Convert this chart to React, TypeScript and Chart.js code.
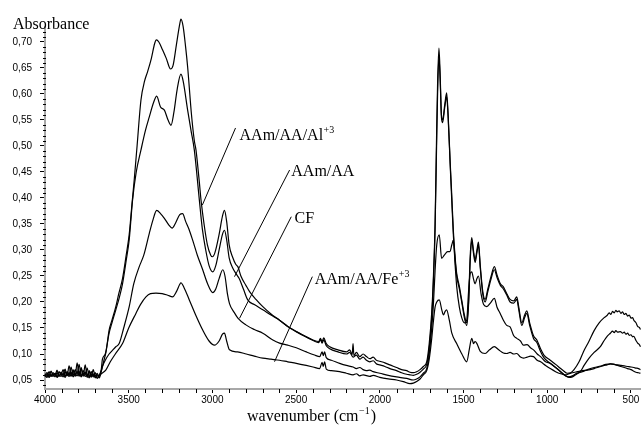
import React, { useEffect, useRef } from 'react';
import { Chart, registerables } from 'chart.js';

Chart.register(...registerables);

// ---------- data ----------
const noiseW = [4000, 3988, 3976, 3964, 3952, 3940, 3928, 3916, 3904, 3892, 3880, 3868, 3856, 3844, 3832, 3820, 3808, 3796, 3784, 3772, 3760, 3748, 3736, 3724, 3712, 3700, 3688, 3676, 3664];
const alNoise = [0.062, 0.057, 0.066, 0.058, 0.064, 0.059, 0.069, 0.057, 0.065, 0.060, 0.071, 0.058, 0.077, 0.061, 0.068, 0.057, 0.083, 0.060, 0.072, 0.057, 0.079, 0.058, 0.066, 0.055, 0.070, 0.057, 0.063, 0.054, 0.066];
const aaNoise = [0.058, 0.064, 0.056, 0.067, 0.059, 0.063, 0.056, 0.066, 0.060, 0.070, 0.057, 0.066, 0.059, 0.075, 0.058, 0.070, 0.062, 0.080, 0.057, 0.068, 0.060, 0.073, 0.056, 0.066, 0.058, 0.064, 0.055, 0.060, 0.070];
const cfNoise = [0.060, 0.055, 0.062, 0.057, 0.061, 0.056, 0.064, 0.058, 0.062, 0.056, 0.066, 0.059, 0.064, 0.057, 0.070, 0.058, 0.066, 0.057, 0.074, 0.059, 0.065, 0.055, 0.068, 0.057, 0.062, 0.054, 0.060, 0.057, 0.068];
const feNoise = [0.056, 0.061, 0.055, 0.060, 0.057, 0.063, 0.055, 0.059, 0.057, 0.062, 0.055, 0.061, 0.057, 0.064, 0.056, 0.062, 0.058, 0.066, 0.056, 0.063, 0.057, 0.060, 0.054, 0.062, 0.056, 0.059, 0.053, 0.058, 0.062];

const alSpectrum: [number, number][] = [
  [3650, 0.085], [3635, 0.105], [3617, 0.146], [3600, 0.165], [3577, 0.191], [3560, 0.215], [3537, 0.245], [3515, 0.29], [3497, 0.33], [3480, 0.39], [3467, 0.435], [3450, 0.5], [3427, 0.588], [3405, 0.625], [3387, 0.643], [3365, 0.668], [3345, 0.697], [3335, 0.704], [3320, 0.7], [3298, 0.685], [3275, 0.668], [3250, 0.648], [3235, 0.655], [3215, 0.695], [3195, 0.735], [3188, 0.744], [3175, 0.73], [3160, 0.69], [3148, 0.652], [3125, 0.56], [3108, 0.51], [3098, 0.492], [3078, 0.43], [3068, 0.396], [3050, 0.35], [3030, 0.31], [3010, 0.29], [3000, 0.287], [2985, 0.295], [2960, 0.33], [2940, 0.365], [2928, 0.376], [2915, 0.355], [2900, 0.31], [2878, 0.285], [2860, 0.272], [2848, 0.268], [2830, 0.25], [2800, 0.232], [2778, 0.22], [2740, 0.205], [2699, 0.191], [2650, 0.177], [2599, 0.165], [2550, 0.153], [2499, 0.143], [2450, 0.135], [2399, 0.127], [2365, 0.124], [2355, 0.13], [2345, 0.124], [2335, 0.131], [2320, 0.12], [2299, 0.114], [2250, 0.108], [2199, 0.104], [2180, 0.108], [2165, 0.099], [2160, 0.12], [2155, 0.097], [2140, 0.103], [2120, 0.095], [2100, 0.1], [2080, 0.095], [2060, 0.091], [2040, 0.094], [2020, 0.088], [2000, 0.086], [1970, 0.083], [1940, 0.079], [1900, 0.074], [1870, 0.07], [1840, 0.068], [1820, 0.065], [1800, 0.064], [1780, 0.066], [1760, 0.07], [1740, 0.076], [1720, 0.085], [1705, 0.12], [1690, 0.18], [1681, 0.24], [1670, 0.35], [1661, 0.52], [1655, 0.62], [1647, 0.688], [1640, 0.64], [1632, 0.56], [1625, 0.55], [1612, 0.58], [1601, 0.602], [1592, 0.56], [1580, 0.47], [1571, 0.41], [1561, 0.338], [1550, 0.285], [1541, 0.255], [1525, 0.23], [1511, 0.204], [1495, 0.175], [1481, 0.16], [1470, 0.2], [1460, 0.29], [1451, 0.324], [1441, 0.3], [1431, 0.281], [1420, 0.3], [1411, 0.315], [1400, 0.27], [1385, 0.22], [1371, 0.205], [1355, 0.225], [1335, 0.25], [1316, 0.268], [1300, 0.252], [1280, 0.235], [1262, 0.229], [1240, 0.215], [1222, 0.205], [1200, 0.202], [1182, 0.21], [1170, 0.19], [1152, 0.16], [1135, 0.175], [1122, 0.183], [1105, 0.16], [1082, 0.135], [1062, 0.127], [1040, 0.11], [1020, 0.098], [982, 0.088], [950, 0.08], [920, 0.072], [900, 0.067], [882, 0.063], [860, 0.064], [840, 0.07], [810, 0.085], [783, 0.105], [750, 0.125], [720, 0.145], [690, 0.16], [660, 0.17], [643, 0.174], [630, 0.179], [620, 0.176], [610, 0.182], [600, 0.179], [590, 0.184], [583, 0.181], [570, 0.183], [560, 0.178], [550, 0.181], [540, 0.176], [530, 0.178], [520, 0.173], [510, 0.175], [500, 0.169], [490, 0.17], [483, 0.165], [470, 0.16], [460, 0.153], [450, 0.151], [443, 0.147]
];

const aaSpectrum: [number, number][] = [
  [3657, 0.09], [3640, 0.1], [3617, 0.14], [3600, 0.16], [3577, 0.185], [3555, 0.21], [3537, 0.235], [3515, 0.28], [3497, 0.32], [3477, 0.396], [3455, 0.45], [3427, 0.492], [3400, 0.53], [3377, 0.556], [3350, 0.585], [3333, 0.596], [3310, 0.575], [3287, 0.569], [3265, 0.55], [3247, 0.54], [3230, 0.565], [3210, 0.61], [3188, 0.638], [3175, 0.625], [3148, 0.569], [3128, 0.53], [3108, 0.492], [3078, 0.396], [3060, 0.34], [3040, 0.3], [3020, 0.27], [2998, 0.258], [2980, 0.27], [2960, 0.3], [2940, 0.33], [2928, 0.338], [2915, 0.32], [2900, 0.285], [2878, 0.265], [2860, 0.255], [2840, 0.245], [2815, 0.225], [2789, 0.204], [2750, 0.195], [2699, 0.185], [2650, 0.175], [2599, 0.165], [2550, 0.153], [2499, 0.143], [2450, 0.134], [2399, 0.126], [2365, 0.122], [2355, 0.128], [2345, 0.121], [2335, 0.127], [2320, 0.116], [2299, 0.11], [2250, 0.104], [2199, 0.1], [2180, 0.103], [2160, 0.094], [2140, 0.098], [2120, 0.09], [2100, 0.094], [2080, 0.088], [2060, 0.085], [2040, 0.087], [2020, 0.081], [2000, 0.079], [1970, 0.076], [1940, 0.072], [1900, 0.068], [1870, 0.064], [1840, 0.061], [1820, 0.06], [1800, 0.059], [1780, 0.061], [1760, 0.065], [1740, 0.071], [1720, 0.08], [1705, 0.11], [1690, 0.17], [1681, 0.23], [1670, 0.34], [1661, 0.5], [1655, 0.6], [1647, 0.672], [1640, 0.63], [1632, 0.555], [1625, 0.545], [1612, 0.575], [1601, 0.595], [1592, 0.555], [1580, 0.465], [1571, 0.4], [1561, 0.33], [1550, 0.28], [1541, 0.25], [1525, 0.225], [1511, 0.2], [1495, 0.17], [1481, 0.155], [1470, 0.195], [1460, 0.28], [1451, 0.318], [1441, 0.295], [1431, 0.276], [1420, 0.295], [1411, 0.31], [1400, 0.265], [1385, 0.215], [1371, 0.2], [1355, 0.22], [1335, 0.245], [1316, 0.262], [1300, 0.247], [1280, 0.232], [1262, 0.225], [1240, 0.212], [1222, 0.2], [1200, 0.198], [1182, 0.205], [1170, 0.185], [1152, 0.155], [1135, 0.17], [1122, 0.178], [1105, 0.155], [1082, 0.13], [1062, 0.122], [1040, 0.105], [1020, 0.093], [982, 0.082], [950, 0.074], [920, 0.066], [900, 0.06], [872, 0.056], [850, 0.058], [830, 0.062], [803, 0.066], [780, 0.078], [750, 0.092], [720, 0.103], [683, 0.114], [660, 0.126], [640, 0.135], [623, 0.14], [610, 0.144], [600, 0.141], [590, 0.145], [580, 0.142], [563, 0.143], [550, 0.14], [540, 0.142], [530, 0.138], [520, 0.14], [510, 0.136], [500, 0.137], [490, 0.133], [483, 0.134], [470, 0.126], [460, 0.121], [450, 0.118], [443, 0.114]
];

const cfSpectrum: [number, number][] = [
  [3657, 0.076], [3640, 0.088], [3617, 0.1], [3600, 0.106], [3577, 0.114], [3557, 0.12], [3530, 0.15], [3497, 0.191], [3470, 0.235], [3437, 0.268], [3410, 0.29], [3377, 0.332], [3355, 0.358], [3333, 0.376], [3310, 0.37], [3287, 0.361], [3260, 0.348], [3241, 0.342], [3220, 0.352], [3195, 0.368], [3178, 0.37], [3160, 0.355], [3140, 0.34], [3118, 0.319], [3090, 0.29], [3058, 0.262], [3030, 0.236], [2998, 0.218], [2980, 0.225], [2960, 0.245], [2938, 0.262], [2925, 0.25], [2910, 0.215], [2898, 0.197], [2870, 0.18], [2848, 0.169], [2800, 0.156], [2750, 0.147], [2699, 0.14], [2639, 0.127], [2599, 0.121], [2550, 0.117], [2499, 0.112], [2439, 0.104], [2390, 0.098], [2359, 0.095], [2345, 0.104], [2338, 0.097], [2330, 0.104], [2320, 0.093], [2290, 0.088], [2240, 0.082], [2200, 0.078], [2160, 0.075], [2140, 0.072], [2120, 0.074], [2100, 0.07], [2080, 0.068], [2060, 0.069], [2040, 0.066], [2000, 0.063], [1950, 0.059], [1900, 0.056], [1840, 0.053], [1800, 0.05], [1780, 0.052], [1760, 0.056], [1740, 0.063], [1720, 0.072], [1705, 0.1], [1690, 0.15], [1681, 0.19], [1670, 0.26], [1660, 0.31], [1645, 0.329], [1631, 0.284], [1615, 0.29], [1595, 0.297], [1581, 0.297], [1570, 0.31], [1561, 0.319], [1550, 0.27], [1541, 0.23], [1525, 0.19], [1511, 0.17], [1495, 0.16], [1481, 0.165], [1470, 0.22], [1460, 0.255], [1451, 0.258], [1441, 0.245], [1431, 0.235], [1420, 0.245], [1411, 0.25], [1395, 0.215], [1380, 0.195], [1361, 0.191], [1340, 0.198], [1316, 0.207], [1300, 0.19], [1281, 0.178], [1262, 0.165], [1242, 0.155], [1222, 0.152], [1200, 0.135], [1182, 0.13], [1160, 0.125], [1142, 0.117], [1120, 0.118], [1100, 0.112], [1082, 0.108], [1060, 0.1], [1040, 0.095], [1010, 0.085], [982, 0.082], [950, 0.074], [920, 0.066], [892, 0.058], [870, 0.055], [850, 0.056], [830, 0.06], [810, 0.064], [790, 0.066], [760, 0.07], [720, 0.074], [680, 0.077], [650, 0.08], [623, 0.081], [600, 0.08], [580, 0.079], [560, 0.078], [540, 0.077], [520, 0.076], [500, 0.075], [483, 0.074], [470, 0.073], [455, 0.072], [443, 0.07]
];

const feSpectrum: [number, number][] = [
  [3637, 0.069], [3610, 0.085], [3580, 0.1], [3537, 0.12], [3500, 0.15], [3457, 0.178], [3430, 0.195], [3397, 0.21], [3370, 0.216], [3337, 0.217], [3300, 0.216], [3267, 0.213], [3238, 0.21], [3215, 0.22], [3195, 0.234], [3188, 0.237], [3170, 0.228], [3138, 0.204], [3100, 0.175], [3058, 0.146], [3020, 0.125], [2988, 0.117], [2960, 0.125], [2940, 0.138], [2928, 0.14], [2915, 0.125], [2898, 0.108], [2850, 0.104], [2798, 0.1], [2750, 0.096], [2699, 0.092], [2650, 0.09], [2599, 0.088], [2550, 0.085], [2499, 0.082], [2440, 0.078], [2399, 0.075], [2359, 0.072], [2345, 0.084], [2338, 0.076], [2330, 0.085], [2320, 0.071], [2290, 0.068], [2240, 0.066], [2200, 0.063], [2160, 0.06], [2140, 0.062], [2120, 0.058], [2100, 0.06], [2060, 0.057], [2040, 0.059], [2000, 0.055], [1950, 0.052], [1900, 0.05], [1860, 0.047], [1820, 0.043], [1800, 0.044], [1780, 0.047], [1760, 0.052], [1740, 0.06], [1720, 0.068], [1705, 0.09], [1690, 0.13], [1681, 0.16], [1670, 0.19], [1660, 0.2], [1645, 0.204], [1630, 0.185], [1620, 0.175], [1610, 0.182], [1601, 0.185], [1585, 0.165], [1570, 0.14], [1541, 0.12], [1510, 0.1], [1481, 0.085], [1465, 0.11], [1451, 0.13], [1440, 0.12], [1431, 0.124], [1420, 0.12], [1400, 0.105], [1371, 0.101], [1345, 0.108], [1316, 0.114], [1290, 0.108], [1262, 0.102], [1242, 0.101], [1222, 0.103], [1200, 0.1], [1182, 0.101], [1160, 0.094], [1142, 0.092], [1120, 0.094], [1100, 0.096], [1082, 0.095], [1060, 0.088], [1040, 0.085], [1010, 0.078], [982, 0.072], [950, 0.066], [920, 0.062], [890, 0.06], [870, 0.062], [850, 0.064], [820, 0.066], [790, 0.068], [760, 0.069], [720, 0.072], [690, 0.075], [660, 0.078], [643, 0.079], [623, 0.081], [600, 0.08], [580, 0.078], [560, 0.076], [540, 0.074], [520, 0.072], [500, 0.07], [483, 0.067], [470, 0.065], [455, 0.064], [443, 0.063]
];

const xTicks = [4000, 3500, 3000, 2500, 2000, 1500, 1000, 500];
const yTicks = [0.05, 0.1, 0.15, 0.2, 0.25, 0.3, 0.35, 0.4, 0.45, 0.5, 0.55, 0.6, 0.65, 0.7];
const xMinorStep = 100;
const yMinorStep = 0.01;

// curve labels (text, superscript), anchors in data units
const labelNames = ['AAm/AA/Al', 'AAm/AA', 'CF', 'AAm/AA/Fe'];
const labelSups = ['+3', '', '', '+3'];
const labelAt: [number, number][] = [[2838, 0.5115], [2529, 0.4423], [2509, 0.352], [2389, 0.2337]];
const leaderFrom: [number, number][] = [[2862, 0.5346], [2539, 0.4538], [2529, 0.364], [2403, 0.2487]];
const leaderTo: [number, number][] = [[3060, 0.3865], [2868, 0.2487], [2838, 0.1687], [2629, 0.0852]];

const X_MIN = 440;
const X_MAX = 4000;
const Y_MIN = 0.0327;
const Y_MAX = 0.7288;

function toPoints(w: number[], v: number[], rest: [number, number][]) {
  return w.map((x, i) => ({ x, y: v[i] })).concat(rest.map(([x, y]) => ({ x, y })));
}

const SERIF = '"Liberation Serif", "Times New Roman", serif';
const SANS = '"Liberation Sans", Arial, sans-serif';

const decorPlugin = {
  id: 'decor',
  afterDraw(chart: any) {
    const { ctx, scales } = chart;
    const xs = scales.x;
    const ys = scales.y;
    const area = chart.chartArea;
    ctx.save();
    // minor ticks
    ctx.strokeStyle = '#000';
    ctx.lineWidth = 1;
    ctx.beginPath();
    for (let v = 0.04; v <= Y_MAX + 1e-9; v += yMinorStep) {
      const r = Math.round(v * 100);
      if (r % 5 === 0) continue;
      const py = Math.round(ys.getPixelForValue(r / 100)) + 0.5;
      ctx.moveTo(area.left - 2, py);
      ctx.lineTo(area.left + 1, py);
    }
    for (let w = 500; w <= X_MAX; w += xMinorStep) {
      if (w % 500 === 0) continue;
      const px = Math.round(xs.getPixelForValue(w)) + 0.5;
      ctx.moveTo(px, area.bottom);
      ctx.lineTo(px, area.bottom + 4);
    }
    ctx.stroke();

    // leaders
    ctx.beginPath();
    leaderFrom.forEach((f, i) => {
      const t = leaderTo[i];
      ctx.moveTo(xs.getPixelForValue(f[0]), ys.getPixelForValue(f[1]));
      ctx.lineTo(xs.getPixelForValue(t[0]), ys.getPixelForValue(t[1]));
    });
    ctx.stroke();

    // labels
    ctx.fillStyle = '#000';
    ctx.textBaseline = 'alphabetic';
    ctx.textAlign = 'left';
    labelNames.forEach((name, i) => {
      const px = xs.getPixelForValue(labelAt[i][0]);
      const py = ys.getPixelForValue(labelAt[i][1]);
      ctx.font = `16px ${SERIF}`;
      ctx.fillText(name, px, py);
      if (labelSups[i]) {
        const wdt = ctx.measureText(name).width;
        ctx.font = `10px ${SERIF}`;
        ctx.fillText(labelSups[i], px + wdt + 0.5, py - 7);
      }
    });

    // axis titles
    ctx.font = `16px ${SERIF}`;
    ctx.fillText('Absorbance', 13, 29);
    const t1 = 'wavenumber (cm';
    const x0 = 247;
    const by = 421;
    ctx.fillText(t1, x0, by);
    let w1 = ctx.measureText(t1).width;
    ctx.font = `10px ${SERIF}`;
    ctx.fillText('\u22121', x0 + w1 + 0.5, by - 7);
    const w2 = ctx.measureText('\u22121').width;
    ctx.font = `16px ${SERIF}`;
    ctx.fillText(')', x0 + w1 + w2 + 1.5, by);
    ctx.restore();
  },
};

export default function App() {
  const ref = useRef<HTMLCanvasElement | null>(null);
  useEffect(() => {
    if (!ref.current) return;
    const lineStyle = {
      borderColor: '#000',
      borderWidth: 1.2,
      pointRadius: 0,
      fill: false,
      cubicInterpolationMode: 'monotone' as const,
      clip: false as any,
    };
    const chart = new Chart(ref.current, {
      type: 'line',
      data: {
        datasets: [
          { label: 'AAm/AA/Al+3', data: toPoints(noiseW, alNoise, alSpectrum), ...lineStyle },
          { label: 'AAm/AA', data: toPoints(noiseW, aaNoise, aaSpectrum), ...lineStyle },
          { label: 'CF', data: toPoints(noiseW, cfNoise, cfSpectrum), ...lineStyle },
          { label: 'AAm/AA/Fe+3', data: toPoints(noiseW, feNoise, feSpectrum), ...lineStyle },
        ],
      },
      options: {
        responsive: false,
        animation: false,
        events: [],
        layout: { padding: { top: 27, left: 0, right: 0, bottom: 0 } },
        plugins: { legend: { display: false }, tooltip: { enabled: false }, title: { display: false } },
        scales: {
          x: {
            type: 'linear',
            reverse: true,
            min: X_MIN,
            max: X_MAX,
            afterBuildTicks: (s: any) => { s.ticks = xTicks.map((value) => ({ value })); },
            afterFit: (s: any) => { s.height = 37; s.paddingLeft = 0; s.paddingRight = 0; },
            ticks: {
              autoSkip: false,
              maxRotation: 0,
              padding: 1,
              color: '#000',
              font: { family: SANS, size: 10 },
              callback: (v: any) => String(v),
            },
            grid: { drawOnChartArea: false, drawTicks: true, tickLength: 4, tickColor: '#000', tickWidth: 1 },
            border: { display: true, color: '#a8a8a8', width: 2 },
          },
          y: {
            type: 'linear',
            min: Y_MIN,
            max: Y_MAX,
            afterBuildTicks: (s: any) => { s.ticks = yTicks.map((value) => ({ value })); },
            afterFit: (s: any) => { s.width = 45; s.paddingTop = 0; s.paddingBottom = 0; },
            ticks: {
              autoSkip: false,
              padding: 8,
              color: '#000',
              font: { family: SANS, size: 10 },
              callback: (v: any) => Number(v).toFixed(2).replace('.', ','),
            },
            grid: { drawOnChartArea: false, drawTicks: true, tickLength: 5, tickColor: '#000', tickWidth: 1 },
            border: { display: true, color: '#a8a8a8', width: 2 },
          },
        },
      },
      plugins: [decorPlugin],
    });
    return () => chart.destroy();
  }, []);
  return (
    <div style={{ position: 'fixed', left: 0, top: 0, width: 641, height: 426, background: '#fff' }}>
      <canvas ref={ref} width={641} height={426} style={{ width: 641, height: 426, display: 'block' }} />
    </div>
  );
}
